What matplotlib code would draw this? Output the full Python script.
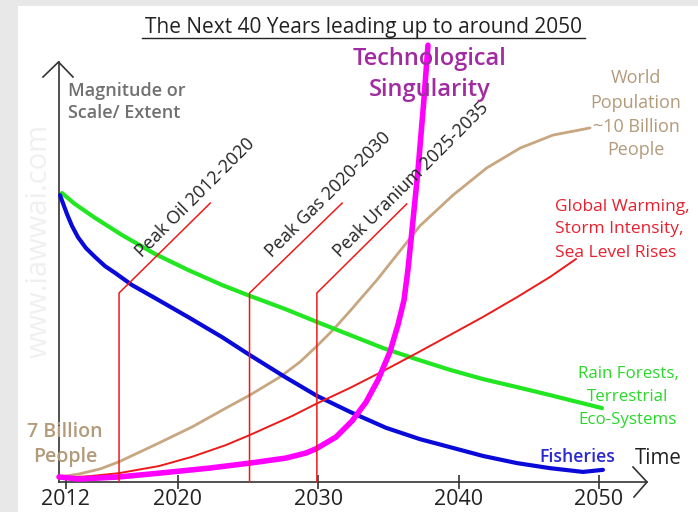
import numpy as np
import matplotlib
matplotlib.use("Agg")
import matplotlib.pyplot as plt
from matplotlib.lines import Line2D
from matplotlib.patches import Rectangle

W, H, DPI = 698, 512, 100
FONT = ["Open Sans", "DejaVu Sans"]
plt.rcParams["font.family"] = FONT

# ---------------- data (year, relative magnitude 0-100) ----------------
fisheries_year = [2011.59, 2011.80, 2012.09, 2012.44, 2012.87, 2013.44, 2014.08, 2014.80,
                  2015.51, 2016.72, 2018.36, 2020.71, 2023.14, 2025.13, 2027.63, 2029.91,
                  2032.26, 2034.83, 2037.25, 2039.39, 2041.74, 2044.16, 2046.51, 2048.87,
                  2050.29]
fisheries_mag = [68.3, 66.4, 63.8, 61.0, 58.3, 55.7, 53.6, 51.4,
                 49.8, 46.9, 43.8, 39.3, 34.5, 30.2, 25.0, 20.5,
                 16.7, 12.9, 10.2, 8.3, 6.2, 4.5, 3.3, 2.4,
                 2.9]

forest_year = [2011.73, 2012.65, 2014.08, 2016.01, 2018.36, 2020.71, 2023.14, 2025.13,
               2027.63, 2029.91, 2032.26, 2034.61, 2037.03, 2039.39, 2041.74, 2044.16,
               2046.51, 2050.22]
forest_mag = [68.8, 66.2, 62.9, 58.8, 54.3, 50.5, 46.9, 44.3,
              41.2, 38.1, 35.0, 31.9, 29.2, 26.7, 24.5, 22.6,
              20.7, 17.6]

population_year = [2011.52, 2012.94, 2014.44, 2015.79, 2018.65, 2021.00, 2023.42, 2025.13,
                   2027.27, 2028.70, 2029.91, 2031.05, 2032.26, 2034.18, 2035.82, 2037.25,
                   2039.60, 2042.02, 2044.38, 2046.73, 2049.37]
population_mag = [1.2, 1.9, 3.1, 4.8, 9.3, 13.1, 17.6, 20.7,
                  25.0, 28.6, 32.4, 36.2, 40.7, 48.1, 55.0, 61.0,
                  68.3, 74.8, 79.5, 82.6, 84.3]

warming_year = [2011.52, 2013.73, 2015.79, 2018.65, 2021.00, 2023.42, 2025.13, 2028.13,
                2029.84, 2032.26, 2034.61, 2037.03, 2039.39, 2041.74, 2044.16, 2046.51,
                2048.37]
warming_mag = [0.95, 1.4, 2.1, 3.8, 6.0, 8.8, 11.2, 15.7,
               18.6, 22.4, 26.4, 30.7, 35.0, 39.3, 44.0, 48.8,
               53.1]

singularity_year = [2011.52, 2012.94, 2015.79, 2018.65, 2022.21, 2025.13, 2027.70, 2029.12,
                    2029.84, 2031.26, 2032.40, 2033.40, 2034.26, 2035.11, 2035.68, 2036.11,
                    2036.39, 2036.61, 2037.11, 2037.53, 2037.82]
singularity_mag = [1.2, 0.7, 1.2, 2.1, 3.3, 4.5, 5.7, 6.9,
                   7.9, 10.7, 14.5, 19.0, 24.3, 31.0, 37.4, 43.3,
                   50.5, 57.6, 74.3, 91.0, 104.0]

peak_names = ["Peak Oil 2012-2020", "Peak Gas 2020-2030", "Peak Uranium 2025-2035"]
peak_years = [2015.8, 2025.1, 2029.9]
peak_level = [45.0, 45.0, 45.0]
peak_end_years = [2022.3, 2031.7, 2036.3]
peak_end_mag = [66.4, 66.4, 66.2]

tick_years = [2012, 2020, 2030, 2040, 2050]
tick_labels = ["2012", "2020", "2030", "2040", "2050"]

# ---------------- figure ----------------
fig = plt.figure(figsize=(W / DPI, H / DPI), dpi=DPI, facecolor="#e8e8e8")
fig.add_artist(Rectangle((18 / W, 0), 1 - 18 / W, (H - 6) / H,
                         transform=fig.transFigure, facecolor="white",
                         edgecolor="none", zorder=0))


def fx(px):
    return px / W


def fy(py):
    return 1 - py / H


ax = fig.add_axes([fx(59), fy(482), (647 - 59) / W, (482 - 62) / H])
ax.set_facecolor("none")
ax.set_xlim(2011.52, 2053.43)
ax.set_ylim(0, 100)
for s in ["top", "right"]:
    ax.spines[s].set_visible(False)
for s in ["left", "bottom"]:
    ax.spines[s].set_color("#333333")
    ax.spines[s].set_linewidth(1.2)
ax.set_yticks([])
ax.set_xticks(tick_years)
ax.set_xticklabels(tick_labels, fontsize=15.5, color="#222222")
ax.tick_params(axis="x", direction="inout", length=10, width=1.2,
               color="#333333", pad=0)

# axis arrow heads
fig.add_artist(Line2D([fx(43), fx(58.5), fx(73)], [fy(77), fy(62), fy(77)],
                      transform=fig.transFigure, color="#333333", lw=1.2))
fig.add_artist(Line2D([fx(633), fx(647), fx(634)], [fy(467), fy(482), fy(497)],
                      transform=fig.transFigure, color="#333333", lw=1.2))

# curves
kw = dict(clip_on=False, solid_capstyle="round", solid_joinstyle="round")
ax.plot(population_year, population_mag, color="#c8a680", lw=2.0, zorder=3, **kw)
ax.plot(forest_year, forest_mag, color="#22e622", lw=3.0, zorder=3, **kw)
ax.plot(fisheries_year, fisheries_mag, color="#0a0ad8", lw=3.0, zorder=3, **kw)
ax.plot(warming_year, warming_mag, color="#ee1a1a", lw=1.4, zorder=3, **kw)
ax.plot(singularity_year, singularity_mag, color="#ff00ff", lw=4.0, zorder=4, **kw)

# peak markers
inv = ax.transData.inverted()
for name, yv, lv, ye, me in zip(peak_names, peak_years, peak_level,
                                peak_end_years, peak_end_mag):
    ax.plot([yv, yv, ye], [0, lv, me], color="#ee1a1a", lw=1.1,
            clip_on=False, zorder=5)
    p0 = ax.transData.transform((yv, lv))
    along, normal = 41.0, 9.0
    d = np.array([1.0, 1.0]) / np.sqrt(2)
    n = np.array([-1.0, 1.0]) / np.sqrt(2)
    anchor = inv.transform(p0 + along * d + normal * n)
    ax.text(anchor[0], anchor[1], name, rotation=45, rotation_mode="anchor",
            ha="left", va="baseline", fontsize=13, color="#222222", zorder=6)


def put_lines(lines, x, baselines, size, color, ha="center", weight="normal"):
    for t, b in zip(lines, baselines):
        fig.text(fx(x), fy(b), t, ha=ha, va="baseline", fontsize=size,
                 color=color, fontweight=weight)


# title with underline
fig.text(fx(363.5), fy(33), "The Next 40 Years leading up to around 2050",
         ha="center", va="baseline", fontsize=15, color="#222222")
fig.add_artist(Line2D([fx(142), fx(585)], [fy(37.5), fy(37.5)],
                      transform=fig.transFigure, color="#222222", lw=1.0))

# watermark
fig.text(fx(39), fy(241), "www.iawwai.com", rotation=90, ha="center",
         va="center", fontsize=21, color="#f0f0f0")

put_lines(["Magnitude or", "Scale/ Extent"], 68, [96, 118], 13, "#707070",
          ha="left", weight="semibold")
put_lines(["Technological", "Singularity"], 430, [65, 96], 17, "#a12ba0",
          weight="semibold")
put_lines(["World", "Population", "~10 Billion", "People"], 636,
          [83, 108, 132, 155], 13, "#b39a7a")
put_lines(["Global Warming,", "Storm Intensity,", "Sea Level Rises"], 555,
          [211, 233, 257], 12.5, "#e8202e", ha="left")
put_lines(["Rain Forests,", "Terrestrial", "Eco-Systems"], 628,
          [378, 401, 424], 12.2, "#2ad82a")
put_lines(["Fisheries"], 577, [462], 12.7, "#2a2ad0", weight="semibold")
put_lines(["Time"], 635, [464], 14.8, "#222222", ha="left")
put_lines(["7 Billion", "People"], 65, [437, 462], 14, "#b39a7a",
          weight="semibold")

fig.savefig("out.png", dpi=DPI, facecolor=fig.get_facecolor())
